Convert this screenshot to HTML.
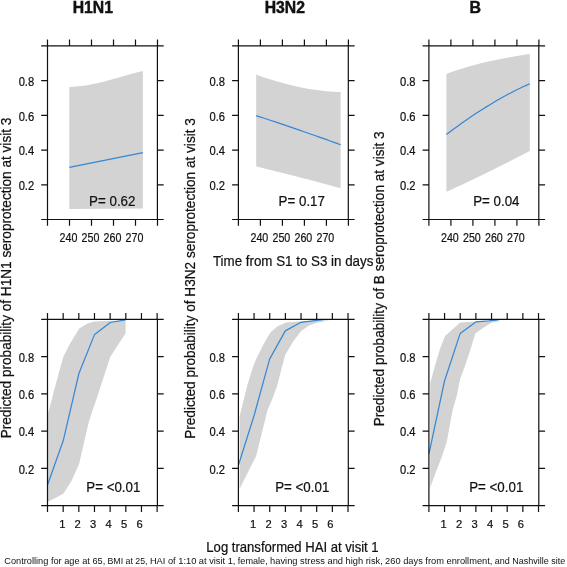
<!DOCTYPE html>
<html><head><meta charset="utf-8"><style>
html,body{margin:0;padding:0;background:#fff;width:567px;height:567px;overflow:hidden;}
svg{display:block;font-family:"Liberation Sans", sans-serif;will-change:transform;}
</style></head><body>
<svg width="567" height="567" viewBox="0 0 567 567">
<rect width="567" height="567" fill="#fff"/>
<path d="M69.3,86.92 L72.5,86.81 L75.7,86.61 L78.9,86.31 L82.1,85.93 L85.3,85.47 L88.5,84.93 L91.7,84.33 L94.9,83.67 L98.1,82.95 L101.3,82.19 L104.5,81.39 L107.7,80.56 L110.9,79.69 L114.1,78.81 L117.3,77.92 L120.5,77.01 L123.7,76.11 L126.9,75.21 L130.1,74.32 L133.3,73.45 L136.5,72.61 L139.7,71.79 L142.9,71.02 L142.9,208.4 L69.3,208.9 Z" fill="#d3d3d3"/>
<path d="M256.2,74.61 L259.87,75.91 L263.54,77.17 L267.21,78.39 L270.88,79.56 L274.55,80.69 L278.22,81.77 L281.89,82.8 L285.56,83.79 L289.23,84.72 L292.9,85.61 L296.57,86.44 L300.23,87.22 L303.9,87.95 L307.57,88.63 L311.24,89.25 L314.91,89.81 L318.58,90.32 L322.25,90.77 L325.92,91.16 L329.59,91.49 L333.26,91.76 L336.93,91.96 L340.6,92.11 L340.6,188.19 L336.93,187.17 L333.26,186.17 L329.59,185.17 L325.92,184.19 L322.25,183.21 L318.58,182.24 L314.91,181.27 L311.24,180.32 L307.57,179.37 L303.9,178.42 L300.23,177.48 L296.57,176.55 L292.9,175.62 L289.23,174.69 L285.56,173.77 L281.89,172.85 L278.22,171.93 L274.55,171.01 L270.88,170.1 L267.21,169.18 L263.54,168.27 L259.87,167.36 L256.2,166.44 Z" fill="#d3d3d3"/>
<path d="M446.4,73.95 L450.03,72.59 L453.65,71.3 L457.28,70.06 L460.9,68.88 L464.53,67.76 L468.16,66.68 L471.78,65.66 L475.41,64.68 L479.03,63.75 L482.66,62.86 L486.29,62.01 L489.91,61.19 L493.54,60.41 L497.17,59.66 L500.79,58.95 L504.42,58.25 L508.04,57.59 L511.67,56.94 L515.3,56.31 L518.92,55.7 L522.55,55.11 L526.17,54.52 L529.8,53.95 L529.8,150.96 L526.17,152.85 L522.55,154.74 L518.92,156.61 L515.3,158.47 L511.67,160.32 L508.04,162.16 L504.42,163.99 L500.79,165.81 L497.17,167.62 L493.54,169.42 L489.91,171.2 L486.29,172.98 L482.66,174.75 L479.03,176.51 L475.41,178.25 L471.78,179.99 L468.16,181.71 L464.53,183.43 L460.9,185.13 L457.28,186.82 L453.65,188.51 L450.03,190.18 L446.4,191.84 Z" fill="#d3d3d3"/>
<path d="M47.5,414.5 L49,410 L54.1,390.4 L59.1,372 L63.3,356.9 L69.1,345.2 L79.2,328.4 L87.6,323.4 L94.3,321.4 L110,320.8 L125.6,320.6 L125.6,333.4 L117.7,345.2 L110.2,356.9 L104.3,375.3 L99.3,390.4 L94.3,405.5 L92.6,410 L88.4,423.4 L84.2,441.8 L79.2,463.6 L71.7,480.4 L63.3,493.8 L49,501.3 L47.5,502 Z" fill="#d3d3d3"/>
<path d="M239.6,416.5 L241.2,410 L247.3,385.5 L252.6,367.9 L256.2,359.1 L263.2,345 L270.3,332.6 L277.3,326.5 L286.1,322.4 L302,321.2 L330.2,320.3 L330.2,320.3 L316.1,322.9 L309.1,325.6 L301.1,330.9 L293.2,341.5 L285.3,354.7 L281.7,367.9 L277.3,385.5 L272,399.7 L267.6,410 L263.2,427.6 L259.7,441.7 L256.2,455.9 L254.4,459.4 L247.3,473.5 L240.3,487.6 L239.6,489 Z" fill="#d3d3d3"/>
<path d="M430.2,383 L430.9,380.4 L435.1,365.3 L440.1,348.5 L445.1,336 L451.8,330.1 L460.2,322.5 L475.3,321.4 L500.4,320.9 L500.4,320.9 L492,322.5 L483.7,327.6 L475.3,333.4 L470.2,350.2 L465.2,365.3 L460.2,378.7 L456.8,395.4 L452.7,410 L450.1,423.4 L446.8,441.8 L441.8,456.9 L435.9,472 L430.9,485.4 L430.2,487 Z" fill="#d3d3d3"/>
<path d="M69.3,167.4 L142.9,152.7" fill="none" stroke="#3586d3" stroke-width="1.2" stroke-linejoin="round"/>
<path d="M256.2,115.6 L259.87,116.81 L263.54,118.02 L267.21,119.24 L270.88,120.46 L274.55,121.69 L278.22,122.92 L281.89,124.16 L285.56,125.4 L289.23,126.65 L292.9,127.91 L296.57,129.17 L300.23,130.43 L303.9,131.7 L307.57,132.98 L311.24,134.26 L314.91,135.55 L318.58,136.84 L322.25,138.14 L325.92,139.44 L329.59,140.75 L333.26,142.06 L336.93,143.38 L340.6,144.7" fill="none" stroke="#3586d3" stroke-width="1.2" stroke-linejoin="round"/>
<path d="M446.4,134.51 L450.03,131.78 L453.65,129.09 L457.28,126.44 L460.9,123.83 L464.53,121.27 L468.16,118.75 L471.78,116.28 L475.41,113.86 L479.03,111.48 L482.66,109.15 L486.29,106.87 L489.91,104.64 L493.54,102.47 L497.17,100.34 L500.79,98.28 L504.42,96.26 L508.04,94.31 L511.67,92.41 L515.3,90.57 L518.92,88.79 L522.55,87.07 L526.17,85.41 L529.8,83.82" fill="none" stroke="#3586d3" stroke-width="1.2" stroke-linejoin="round"/>
<path d="M47.5,485 L63.2,440.8 L78.9,373.5 L94.6,334.4 L110.3,322.5 L125.6,319.8" fill="none" stroke="#3586d3" stroke-width="1.2" stroke-linejoin="round"/>
<path d="M238.5,465 L254.1,415.5 L269.6,359.1 L285.3,330.9 L301,322.3 L316.7,320.3 L323.5,319.7" fill="none" stroke="#3586d3" stroke-width="1.2" stroke-linejoin="round"/>
<path d="M429,453.6 L444.5,381 L460.2,333.4 L475.8,321.9 L488.7,320.9 L498.7,319.8" fill="none" stroke="#3586d3" stroke-width="1.2" stroke-linejoin="round"/>
<path d="M47.5,45.9 H157.4 V219.5 H47.5 Z M41.2,219.5 H47.5 M157.4,219.5 H163.7 M41.2,184.78 H47.5 M157.4,184.78 H163.7 M41.2,150.06 H47.5 M157.4,150.06 H163.7 M41.2,115.34 H47.5 M157.4,115.34 H163.7 M41.2,80.62 H47.5 M157.4,80.62 H163.7 M41.2,45.9 H47.5 M157.4,45.9 H163.7 M47.5,39.6 V45.9 M47.5,219.5 V225.8 M69.5,39.6 V45.9 M69.5,219.5 V225.8 M91.5,39.6 V45.9 M91.5,219.5 V225.8 M113.5,39.6 V45.9 M113.5,219.5 V225.8 M135.5,39.6 V45.9 M135.5,219.5 V225.8 M157.5,39.6 V45.9 M157.5,219.5 V225.8 M238.4,45.9 H348.3 V219.5 H238.4 Z M232.1,219.5 H238.4 M348.3,219.5 H354.6 M232.1,184.78 H238.4 M348.3,184.78 H354.6 M232.1,150.06 H238.4 M348.3,150.06 H354.6 M232.1,115.34 H238.4 M348.3,115.34 H354.6 M232.1,80.62 H238.4 M348.3,80.62 H354.6 M232.1,45.9 H238.4 M348.3,45.9 H354.6 M238.4,39.6 V45.9 M238.4,219.5 V225.8 M260.4,39.6 V45.9 M260.4,219.5 V225.8 M282.4,39.6 V45.9 M282.4,219.5 V225.8 M304.4,39.6 V45.9 M304.4,219.5 V225.8 M326.4,39.6 V45.9 M326.4,219.5 V225.8 M348.4,39.6 V45.9 M348.4,219.5 V225.8 M428.9,45.9 H538.8 V219.5 H428.9 Z M422.6,219.5 H428.9 M538.8,219.5 H545.1 M422.6,184.78 H428.9 M538.8,184.78 H545.1 M422.6,150.06 H428.9 M538.8,150.06 H545.1 M422.6,115.34 H428.9 M538.8,115.34 H545.1 M422.6,80.62 H428.9 M538.8,80.62 H545.1 M422.6,45.9 H428.9 M538.8,45.9 H545.1 M428.9,39.6 V45.9 M428.9,219.5 V225.8 M450.9,39.6 V45.9 M450.9,219.5 V225.8 M472.9,39.6 V45.9 M472.9,219.5 V225.8 M494.9,39.6 V45.9 M494.9,219.5 V225.8 M516.9,39.6 V45.9 M516.9,219.5 V225.8 M538.9,39.6 V45.9 M538.9,219.5 V225.8 M47.5,319.4 H157.4 V505.6 H47.5 Z M41.2,505.6 H47.5 M157.4,505.6 H163.7 M41.2,468.36 H47.5 M157.4,468.36 H163.7 M41.2,431.12 H47.5 M157.4,431.12 H163.7 M41.2,393.88 H47.5 M157.4,393.88 H163.7 M41.2,356.64 H47.5 M157.4,356.64 H163.7 M41.2,319.4 H47.5 M157.4,319.4 H163.7 M47.5,313.1 V319.4 M47.5,505.6 V511.9 M63.16,313.1 V319.4 M63.16,505.6 V511.9 M78.82,313.1 V319.4 M78.82,505.6 V511.9 M94.48,313.1 V319.4 M94.48,505.6 V511.9 M110.14,313.1 V319.4 M110.14,505.6 V511.9 M125.8,313.1 V319.4 M125.8,505.6 V511.9 M141.46,313.1 V319.4 M141.46,505.6 V511.9 M157.12,313.1 V319.4 M157.12,505.6 V511.9 M238.4,319.4 H348.3 V505.6 H238.4 Z M232.1,505.6 H238.4 M348.3,505.6 H354.6 M232.1,468.36 H238.4 M348.3,468.36 H354.6 M232.1,431.12 H238.4 M348.3,431.12 H354.6 M232.1,393.88 H238.4 M348.3,393.88 H354.6 M232.1,356.64 H238.4 M348.3,356.64 H354.6 M232.1,319.4 H238.4 M348.3,319.4 H354.6 M238.4,313.1 V319.4 M238.4,505.6 V511.9 M254.06,313.1 V319.4 M254.06,505.6 V511.9 M269.72,313.1 V319.4 M269.72,505.6 V511.9 M285.38,313.1 V319.4 M285.38,505.6 V511.9 M301.04,313.1 V319.4 M301.04,505.6 V511.9 M316.7,313.1 V319.4 M316.7,505.6 V511.9 M332.36,313.1 V319.4 M332.36,505.6 V511.9 M348.02,313.1 V319.4 M348.02,505.6 V511.9 M428.9,319.4 H538.8 V505.6 H428.9 Z M422.6,505.6 H428.9 M538.8,505.6 H545.1 M422.6,468.36 H428.9 M538.8,468.36 H545.1 M422.6,431.12 H428.9 M538.8,431.12 H545.1 M422.6,393.88 H428.9 M538.8,393.88 H545.1 M422.6,356.64 H428.9 M538.8,356.64 H545.1 M422.6,319.4 H428.9 M538.8,319.4 H545.1 M428.9,313.1 V319.4 M428.9,505.6 V511.9 M444.56,313.1 V319.4 M444.56,505.6 V511.9 M460.22,313.1 V319.4 M460.22,505.6 V511.9 M475.88,313.1 V319.4 M475.88,505.6 V511.9 M491.54,313.1 V319.4 M491.54,505.6 V511.9 M507.2,313.1 V319.4 M507.2,505.6 V511.9 M522.86,313.1 V319.4 M522.86,505.6 V511.9 M538.52,313.1 V319.4 M538.52,505.6 V511.9" fill="none" stroke="#111" stroke-width="1.2"/>
<g font-family='"Liberation Sans", sans-serif' fill="#111" stroke="#111" stroke-width="0.22"><text transform="translate(92.8 12.8) scale(0.9450 1)" font-size="16.68" text-anchor="middle" font-weight="bold" stroke-width="0.45">H1N1</text><text transform="translate(284.8 12.8) scale(0.9450 1)" font-size="16.68" text-anchor="middle" font-weight="bold" stroke-width="0.45">H3N2</text><text transform="translate(475.3 12.8) scale(0.9450 1)" font-size="16.89" text-anchor="middle" font-weight="bold" stroke-width="0.45">B</text><text transform="translate(34.2 189.98) scale(0.9009 1)" font-size="12.43" text-anchor="end" font-weight="normal">0.2</text><text transform="translate(34.2 155.26) scale(0.9009 1)" font-size="12.43" text-anchor="end" font-weight="normal">0.4</text><text transform="translate(34.2 120.54) scale(0.9009 1)" font-size="12.43" text-anchor="end" font-weight="normal">0.6</text><text transform="translate(34.2 85.82) scale(0.9009 1)" font-size="12.43" text-anchor="end" font-weight="normal">0.8</text><text transform="translate(225.1 189.98) scale(0.9009 1)" font-size="12.43" text-anchor="end" font-weight="normal">0.2</text><text transform="translate(225.1 155.26) scale(0.9009 1)" font-size="12.43" text-anchor="end" font-weight="normal">0.4</text><text transform="translate(225.1 120.54) scale(0.9009 1)" font-size="12.43" text-anchor="end" font-weight="normal">0.6</text><text transform="translate(225.1 85.82) scale(0.9009 1)" font-size="12.43" text-anchor="end" font-weight="normal">0.8</text><text transform="translate(415.6 189.98) scale(0.9009 1)" font-size="12.43" text-anchor="end" font-weight="normal">0.2</text><text transform="translate(415.6 155.26) scale(0.9009 1)" font-size="12.43" text-anchor="end" font-weight="normal">0.4</text><text transform="translate(415.6 120.54) scale(0.9009 1)" font-size="12.43" text-anchor="end" font-weight="normal">0.6</text><text transform="translate(415.6 85.82) scale(0.9009 1)" font-size="12.43" text-anchor="end" font-weight="normal">0.8</text><text transform="translate(34.2 473.56) scale(0.9009 1)" font-size="12.43" text-anchor="end" font-weight="normal">0.2</text><text transform="translate(34.2 436.32) scale(0.9009 1)" font-size="12.43" text-anchor="end" font-weight="normal">0.4</text><text transform="translate(34.2 399.08) scale(0.9009 1)" font-size="12.43" text-anchor="end" font-weight="normal">0.6</text><text transform="translate(34.2 361.84) scale(0.9009 1)" font-size="12.43" text-anchor="end" font-weight="normal">0.8</text><text transform="translate(225.1 473.56) scale(0.9009 1)" font-size="12.43" text-anchor="end" font-weight="normal">0.2</text><text transform="translate(225.1 436.32) scale(0.9009 1)" font-size="12.43" text-anchor="end" font-weight="normal">0.4</text><text transform="translate(225.1 399.08) scale(0.9009 1)" font-size="12.43" text-anchor="end" font-weight="normal">0.6</text><text transform="translate(225.1 361.84) scale(0.9009 1)" font-size="12.43" text-anchor="end" font-weight="normal">0.8</text><text transform="translate(415.6 473.56) scale(0.9009 1)" font-size="12.43" text-anchor="end" font-weight="normal">0.2</text><text transform="translate(415.6 436.32) scale(0.9009 1)" font-size="12.43" text-anchor="end" font-weight="normal">0.4</text><text transform="translate(415.6 399.08) scale(0.9009 1)" font-size="12.43" text-anchor="end" font-weight="normal">0.6</text><text transform="translate(415.6 361.84) scale(0.9009 1)" font-size="12.43" text-anchor="end" font-weight="normal">0.8</text><text transform="translate(68.5 241.8) scale(0.8304 1)" font-size="12.88" text-anchor="middle" font-weight="normal">240</text><text transform="translate(90.5 241.8) scale(0.8304 1)" font-size="12.88" text-anchor="middle" font-weight="normal">250</text><text transform="translate(112.5 241.8) scale(0.8304 1)" font-size="12.88" text-anchor="middle" font-weight="normal">260</text><text transform="translate(134.5 241.8) scale(0.8304 1)" font-size="12.88" text-anchor="middle" font-weight="normal">270</text><text transform="translate(62.26 528.4) scale(0.9524 1)" font-size="11.76" text-anchor="middle" font-weight="normal">1</text><text transform="translate(77.72 528.4) scale(0.9524 1)" font-size="11.76" text-anchor="middle" font-weight="normal">2</text><text transform="translate(93.18 528.4) scale(0.9524 1)" font-size="11.76" text-anchor="middle" font-weight="normal">3</text><text transform="translate(108.64 528.4) scale(0.9524 1)" font-size="11.76" text-anchor="middle" font-weight="normal">4</text><text transform="translate(124.1 528.4) scale(0.9524 1)" font-size="11.76" text-anchor="middle" font-weight="normal">5</text><text transform="translate(139.56 528.4) scale(0.9524 1)" font-size="11.76" text-anchor="middle" font-weight="normal">6</text><text transform="translate(259.4 241.8) scale(0.8304 1)" font-size="12.88" text-anchor="middle" font-weight="normal">240</text><text transform="translate(281.4 241.8) scale(0.8304 1)" font-size="12.88" text-anchor="middle" font-weight="normal">250</text><text transform="translate(303.4 241.8) scale(0.8304 1)" font-size="12.88" text-anchor="middle" font-weight="normal">260</text><text transform="translate(325.4 241.8) scale(0.8304 1)" font-size="12.88" text-anchor="middle" font-weight="normal">270</text><text transform="translate(253.16 528.4) scale(0.9524 1)" font-size="11.76" text-anchor="middle" font-weight="normal">1</text><text transform="translate(268.62 528.4) scale(0.9524 1)" font-size="11.76" text-anchor="middle" font-weight="normal">2</text><text transform="translate(284.08 528.4) scale(0.9524 1)" font-size="11.76" text-anchor="middle" font-weight="normal">3</text><text transform="translate(299.54 528.4) scale(0.9524 1)" font-size="11.76" text-anchor="middle" font-weight="normal">4</text><text transform="translate(315 528.4) scale(0.9524 1)" font-size="11.76" text-anchor="middle" font-weight="normal">5</text><text transform="translate(330.46 528.4) scale(0.9524 1)" font-size="11.76" text-anchor="middle" font-weight="normal">6</text><text transform="translate(449.9 241.8) scale(0.8304 1)" font-size="12.88" text-anchor="middle" font-weight="normal">240</text><text transform="translate(471.9 241.8) scale(0.8304 1)" font-size="12.88" text-anchor="middle" font-weight="normal">250</text><text transform="translate(493.9 241.8) scale(0.8304 1)" font-size="12.88" text-anchor="middle" font-weight="normal">260</text><text transform="translate(515.9 241.8) scale(0.8304 1)" font-size="12.88" text-anchor="middle" font-weight="normal">270</text><text transform="translate(443.66 528.4) scale(0.9524 1)" font-size="11.76" text-anchor="middle" font-weight="normal">1</text><text transform="translate(459.12 528.4) scale(0.9524 1)" font-size="11.76" text-anchor="middle" font-weight="normal">2</text><text transform="translate(474.58 528.4) scale(0.9524 1)" font-size="11.76" text-anchor="middle" font-weight="normal">3</text><text transform="translate(490.04 528.4) scale(0.9524 1)" font-size="11.76" text-anchor="middle" font-weight="normal">4</text><text transform="translate(505.5 528.4) scale(0.9524 1)" font-size="11.76" text-anchor="middle" font-weight="normal">5</text><text transform="translate(520.96 528.4) scale(0.9524 1)" font-size="11.76" text-anchor="middle" font-weight="normal">6</text><text transform="translate(293.15 265.9) scale(0.9107 1)" font-size="14.67" text-anchor="middle" font-weight="normal">Time from S1 to S3 in days</text><text transform="translate(292.5 551.9) scale(0.9324 1)" font-size="14.04" text-anchor="middle" font-weight="normal">Log transformed HAI at visit 1</text><text transform="translate(4.3 563.6) scale(0.9600 1)" font-size="9.61" text-anchor="start" font-weight="normal" stroke-width="0">Controlling for age at 65,</text><text transform="translate(107.5 563.6) scale(0.9143 1)" font-size="9.61" text-anchor="start" font-weight="normal" stroke-width="0">BMI at 25,</text><text transform="translate(149.9 563.6) scale(0.9657 1)" font-size="9.61" text-anchor="start" font-weight="normal" stroke-width="0">HAI of 1:10 at visit 1,</text><text transform="translate(237.8 563.6) scale(0.9486 1)" font-size="9.61" text-anchor="start" font-weight="normal" stroke-width="0">female,</text><text transform="translate(270.1 563.6) scale(0.9686 1)" font-size="9.61" text-anchor="start" font-weight="normal" stroke-width="0">having stress and high risk,</text><text transform="translate(385.1 563.6) scale(0.9676 1)" font-size="9.61" text-anchor="start" font-weight="normal" stroke-width="0">260 days from enrollment,</text><text transform="translate(494.8 563.6) scale(0.9381 1)" font-size="9.61" text-anchor="start" font-weight="normal" stroke-width="0">and Nashville site</text><text transform="translate(11.4 278) rotate(-90) scale(0.9136 1)" font-size="14.91" text-anchor="middle" font-weight="normal">Predicted probability of H1N1 seroprotection at visit 3</text><text transform="translate(194.5 278.5) rotate(-90) scale(0.9136 1)" font-size="14.91" text-anchor="middle" font-weight="normal">Predicted probability of H3N2 seroprotection at visit 3</text><text transform="translate(383.5 278.85) rotate(-90) scale(0.9136 1)" font-size="14.91" text-anchor="middle" font-weight="normal">Predicted probability of B seroprotection at visit 3</text><text transform="translate(89.1 205.9) scale(0.9352 1)" font-size="14.26" text-anchor="start" font-weight="normal">P= 0.62</text><text transform="translate(278.6 205.8) scale(0.9352 1)" font-size="14.26" text-anchor="start" font-weight="normal">P= 0.17</text><text transform="translate(473.2 206.2) scale(0.9352 1)" font-size="14.26" text-anchor="start" font-weight="normal">P= 0.04</text><text transform="translate(86.3 492.1) scale(0.9352 1)" font-size="14.26" text-anchor="start" font-weight="normal">P= &lt;0.01</text><text transform="translate(275.2 491.7) scale(0.9352 1)" font-size="14.26" text-anchor="start" font-weight="normal">P= &lt;0.01</text><text transform="translate(469.2 491.7) scale(0.9352 1)" font-size="14.26" text-anchor="start" font-weight="normal">P= &lt;0.01</text></g>
</svg>
</body></html>
